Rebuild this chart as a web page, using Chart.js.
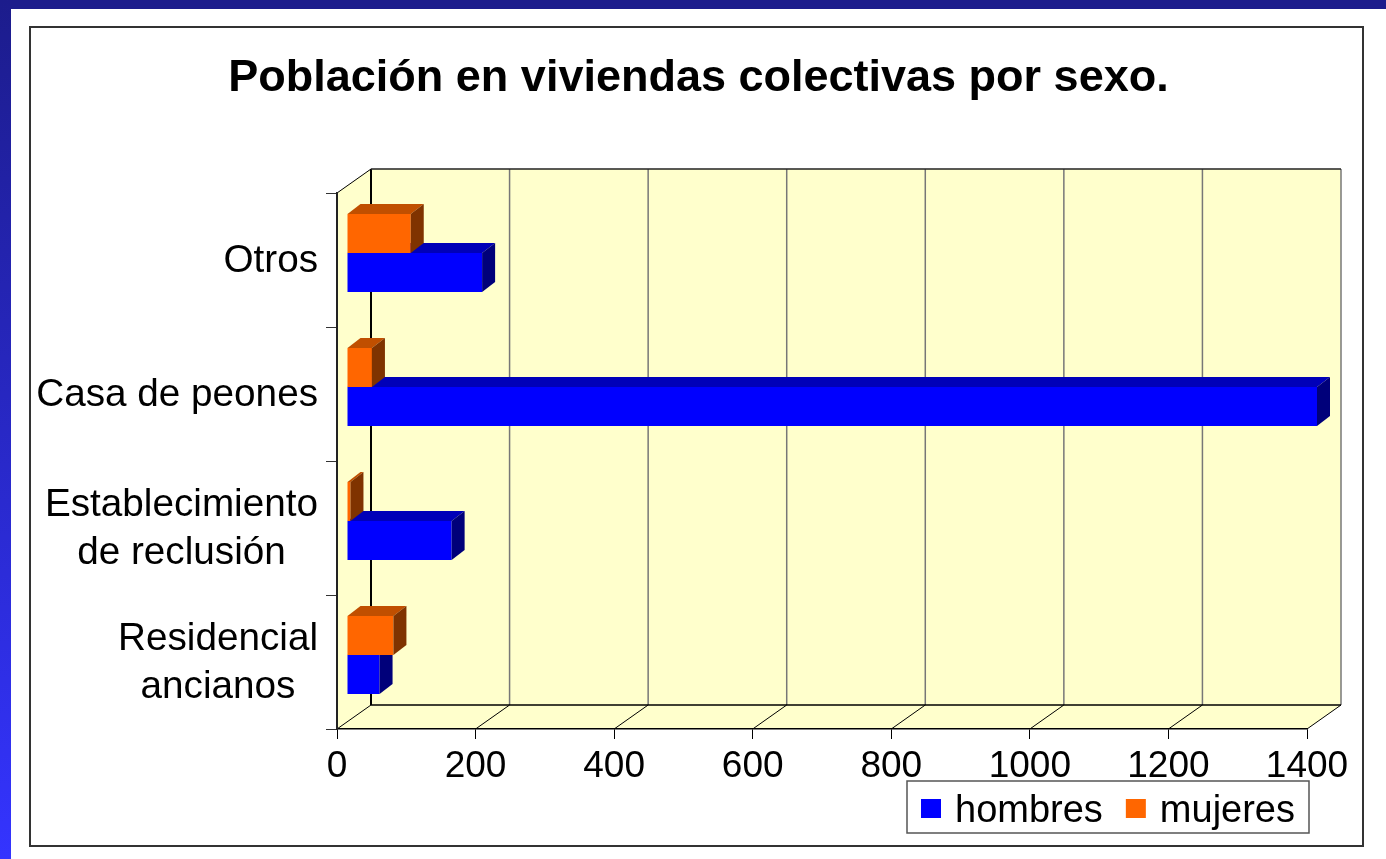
<!DOCTYPE html>
<html><head><meta charset="utf-8">
<script src="https://cdn.jsdelivr.net/npm/chart.js@4.4.1/dist/chart.umd.min.js"></script>
<style>
html,body{margin:0;padding:0;background:#fff;width:1386px;height:859px;overflow:hidden;position:relative}
#topband{position:absolute;left:0;top:0;width:1386px;height:9px;background:#1c1c8c}
#leftband{position:absolute;left:0;top:0;width:11px;height:859px;background:linear-gradient(#1c1c8c,#3434ff)}
#frame{position:absolute;left:29px;top:26px;width:1331px;height:817px;border:2px solid #333}
canvas{position:absolute;left:0;top:0}
</style></head>
<body>
<div id="topband"></div><div id="leftband"></div><div id="frame"></div>
<canvas id="c" width="1386" height="859"></canvas>
<script>
// ---- data ----
const categories = [['Otros'], ['Casa de peones'], ['Establecimiento', 'de reclusión'], ['Residencial', 'ancianos']];
const hombres = [195, 1400, 151, 47];
const mujeres = [92, 36, 5, 67];
const xTickMin = 0;
const xTickMax = 1400;
const xTickStep = 200;
const seriesNames = ['hombres', 'mujeres'];
const titleText = 'Población en viviendas colectivas por sexo.';

// ---- styles ----
const FONT = '"Liberation Sans", Arial, sans-serif';
const DX = 34, DY = -24;      // depth of the plot box
const BX = 10, BY = -7;       // bar front plane offset
const BDX = 13, BDY = -10;    // bar depth
const faceColors = {
  hombres: {front: '#0000FF', top: '#0000B8', side: '#00007A'},
  mujeres: {front: '#FF6600', top: '#C04F00', side: '#7F3300'}
};

Chart.defaults.font.family = FONT;

function poly(ctx, pts) {
  ctx.beginPath();
  ctx.moveTo(pts[0][0], pts[0][1]);
  for (let i = 1; i < pts.length; i++) ctx.lineTo(pts[i][0], pts[i][1]);
  ctx.closePath();
}
function line(ctx, x1, y1, x2, y2, color, w) {
  ctx.beginPath(); ctx.moveTo(x1, y1); ctx.lineTo(x2, y2);
  ctx.strokeStyle = color; ctx.lineWidth = w; ctx.stroke();
}

const plot3d = {
  id: 'plot3d',
  beforeDraw(chart) {
    const {ctx, chartArea: a, scales: {x}} = chart;
    ctx.save();
    ctx.fillStyle = '#FFFFCC';
    ctx.fillRect(a.left + DX, a.top + DY, a.right - a.left, a.bottom - a.top);
    poly(ctx, [[a.left, a.top], [a.left + DX, a.top + DY], [a.left + DX, a.bottom + DY], [a.left, a.bottom]]);
    ctx.fill();
    poly(ctx, [[a.left, a.bottom], [a.left + DX, a.bottom + DY], [a.right + DX, a.bottom + DY], [a.right, a.bottom]]);
    ctx.fill();
    x.ticks.forEach((t, i) => {
      const px = x.getPixelForValue(t.value);
      if (i === 0) line(ctx, px + DX, a.top + DY, px + DX, a.bottom + DY, '#000', 2);
      else line(ctx, px + DX, a.top + DY, px + DX, a.bottom + DY, '#777', 1.5);
      line(ctx, px, a.bottom, px + DX, a.bottom + DY, '#000', 1);
    });
    line(ctx, a.left + DX, a.top + DY, a.right + DX, a.top + DY, '#222', 1.5);
    line(ctx, a.left + DX, a.bottom + DY, a.right + DX, a.bottom + DY, '#000', 1.5);
    line(ctx, a.left, a.top, a.left + DX, a.top + DY, '#000', 1);
    ctx.restore();
  },
  beforeDatasetDraw(chart) {
    chart.ctx.save();
    chart.ctx.translate(BX, BY);
  },
  afterDatasetDraw(chart, args) {
    const ctx = chart.ctx;
    const ds = chart.data.datasets[args.index];
    const col = faceColors[ds.label];
    args.meta.data.forEach(el => {
      const p = el.getProps(['x', 'y', 'base', 'height'], true);
      const l = Math.min(p.base, p.x), r = Math.max(p.base, p.x);
      const t = p.y - p.height / 2, b = p.y + p.height / 2;
      ctx.fillStyle = col.top;
      poly(ctx, [[l, t], [l + BDX, t + BDY], [r + BDX, t + BDY], [r, t]]); ctx.fill();
      ctx.fillStyle = col.side;
      poly(ctx, [[r, t], [r + BDX, t + BDY], [r + BDX, b + BDY], [r, b]]); ctx.fill();
    });
    ctx.restore();
  },
  afterDraw(chart) {
    const {ctx, chartArea: a, scales: {y}} = chart;
    ctx.save();
    // category labels
    ctx.font = '38.7px ' + FONT;
    ctx.fillStyle = '#000';
    ctx.textAlign = 'center';
    ctx.textBaseline = 'alphabetic';
    const rightEdge = a.left - 19;
    chart.data.labels.forEach((lines, i) => {
      const cy = y.getPixelForTick(i);
      const w = Math.max(...lines.map(s => ctx.measureText(s).width));
      const cx = rightEdge - w / 2;
      lines.forEach((s, j) => ctx.fillText(s, cx, cy + 12 + (j - (lines.length - 1) / 2) * 47.5));
    });
    // legend
    ctx.font = '38px ' + FONT;
    const bx = 907, by = a.bottom + 52, bw = 402, bh = 52;
    ctx.fillStyle = '#fff';
    ctx.fillRect(bx, by, bw, bh);
    ctx.strokeStyle = '#555'; ctx.lineWidth = 1.5;
    ctx.strokeRect(bx, by, bw, bh);
    ctx.textAlign = 'left';
    let xx = bx + 14;
    const items = chart.data.datasets.slice().reverse();
    items.forEach(ds => {
      ctx.fillStyle = ds.backgroundColor;
      ctx.fillRect(xx, by + 18, 20, 19);
      ctx.fillStyle = '#000';
      ctx.fillText(ds.label, xx + 34, by + 41);
      xx += 34 + ctx.measureText(ds.label).width + 23;
    });
    ctx.restore();
  }
};

new Chart(document.getElementById('c'), {
  type: 'bar',
  data: {
    labels: categories,
    datasets: [
      {label: seriesNames[1], data: mujeres, backgroundColor: faceColors.mujeres.front,
       borderWidth: 0, barPercentage: 1, categoryPercentage: 0.582, clip: false},
      {label: seriesNames[0], data: hombres, backgroundColor: faceColors.hombres.front,
       borderWidth: 0, barPercentage: 1, categoryPercentage: 0.582, clip: false}
    ]
  },
  options: {
    indexAxis: 'y',
    responsive: false,
    animation: false,
    events: [],
    layout: {padding: {left: 90, right: 79, top: 0, bottom: 0}},
    plugins: {
      legend: {display: false},
      tooltip: {enabled: false},
      title: {
        display: true, text: titleText, color: '#000',
        font: {size: 45, weight: 'bold', family: FONT},
        padding: {top: 52, bottom: 87}
      }
    },
    scales: {
      x: {
        type: 'linear', min: xTickMin, max: xTickMax,
        ticks: {stepSize: xTickStep, color: '#000', font: {size: 37, family: FONT}, padding: 6, maxRotation: 0,
                callback: v => String(v)},
        grid: {drawOnChartArea: false, drawTicks: true, tickLength: 10, color: '#000', tickColor: '#000'},
        border: {display: true, color: '#000', width: 1.5},
        afterFit(s) { s.height = 130; }
      },
      y: {
        type: 'category',
        ticks: {display: false},
        grid: {drawOnChartArea: false, drawTicks: true, tickLength: 11, color: '#333', tickColor: '#333', offset: true},
        border: {display: true, color: '#222', width: 2},
        afterFit(s) { s.width = 247; }
      }
    }
  },
  plugins: [plot3d]
});
</script>
</body></html>
